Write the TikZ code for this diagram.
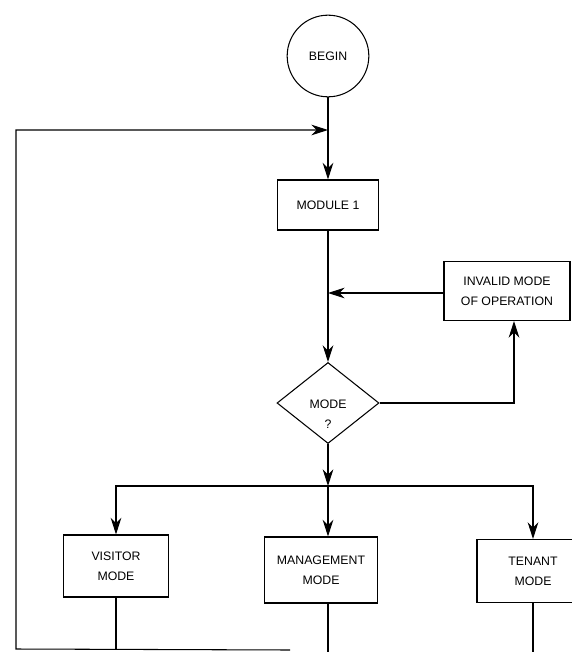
\documentclass[tikz,border=0pt]{standalone}
\usepackage{fontspec}
\setmainfont{Liberation Sans}
\usetikzlibrary{shapes.geometric, arrows.meta}

\begin{document}
\begin{tikzpicture}[
    x=0.03cm, y=-0.03cm,
    every node/.style={font=\fontsize{10.5}{17}\selectfont},
    box/.style={rectangle, draw, line width=0.9pt, align=center, inner sep=0pt},
    arrow/.style={-{Stealth[length=0.5cm, width=0.32cm, inset=0.16cm]}, line width=0.9pt},
    link/.style={line width=0.9pt}
]
    \useasboundingbox (0,0) rectangle (572,652);

    % Main column
    \node[circle, draw, line width=0.9pt, minimum size=2.45cm] (begin) at (328,56) {BEGIN};
    \node[box, minimum width=3.03cm, minimum height=1.5cm] (module) at (328,205) {MODULE 1};
    \node[diamond, draw, line width=0.9pt, inner sep=0pt, minimum width=3.06cm, minimum height=2.43cm,
        label={[align=center, yshift=-0.33cm]center:{MODE\\?}}] (mode) at (328,403) {};
    \node[box, minimum width=3.78cm, minimum height=1.77cm] (invalid) at (507,291) {INVALID MODE\\OF OPERATION};

    % Mode row
    \node[box, minimum width=3.15cm, minimum height=1.86cm] (visitor) at (116,566) {VISITOR\\MODE};
    \node[box, minimum width=3.39cm, minimum height=1.98cm] (management) at (321,570) {MANAGEMENT\\MODE};
    \node[box, minimum width=3.36cm, minimum height=1.89cm] (tenant) at (533,571) {TENANT\\MODE};

    % Junctions and corners
    \coordinate (enter) at (328,130);
    \coordinate (retry) at (328,293);
    \coordinate (split) at (328,486);
    \coordinate (back) at (290,650);
    \coordinate (lowleft) at (16,649);
    \coordinate (upleft) at (16,130);
    \coordinate (mgmtout) at (328,665);
    \coordinate (tenantout) at (533,665);

    \draw[link] (begin) -- (enter);
    \draw[arrow] (enter) -- (module);
    \draw[link] (module) -- (retry);
    \draw[arrow] (retry) -- (mode.north);
    \draw[arrow] (mode.east) -| ([xshift=0.21cm]invalid.south);
    \draw[arrow] (invalid.west |- retry) -- (retry);
    \draw[arrow] (mode.south) -- (split);
    \draw[arrow] (split) -| (visitor.north);
    \draw[arrow] (split) -- (split |- management.north);
    \draw[arrow] (split) -| (tenant.north);
    \draw[link] (visitor.south) -- (visitor.south |- back);
    \draw[arrow] (back) -- (lowleft) -- (upleft) -- (enter);
    \draw[link] (split |- management.south) -- (mgmtout);
    \draw[link] (tenant.south) -- (tenantout);
\end{tikzpicture}
\end{document}
